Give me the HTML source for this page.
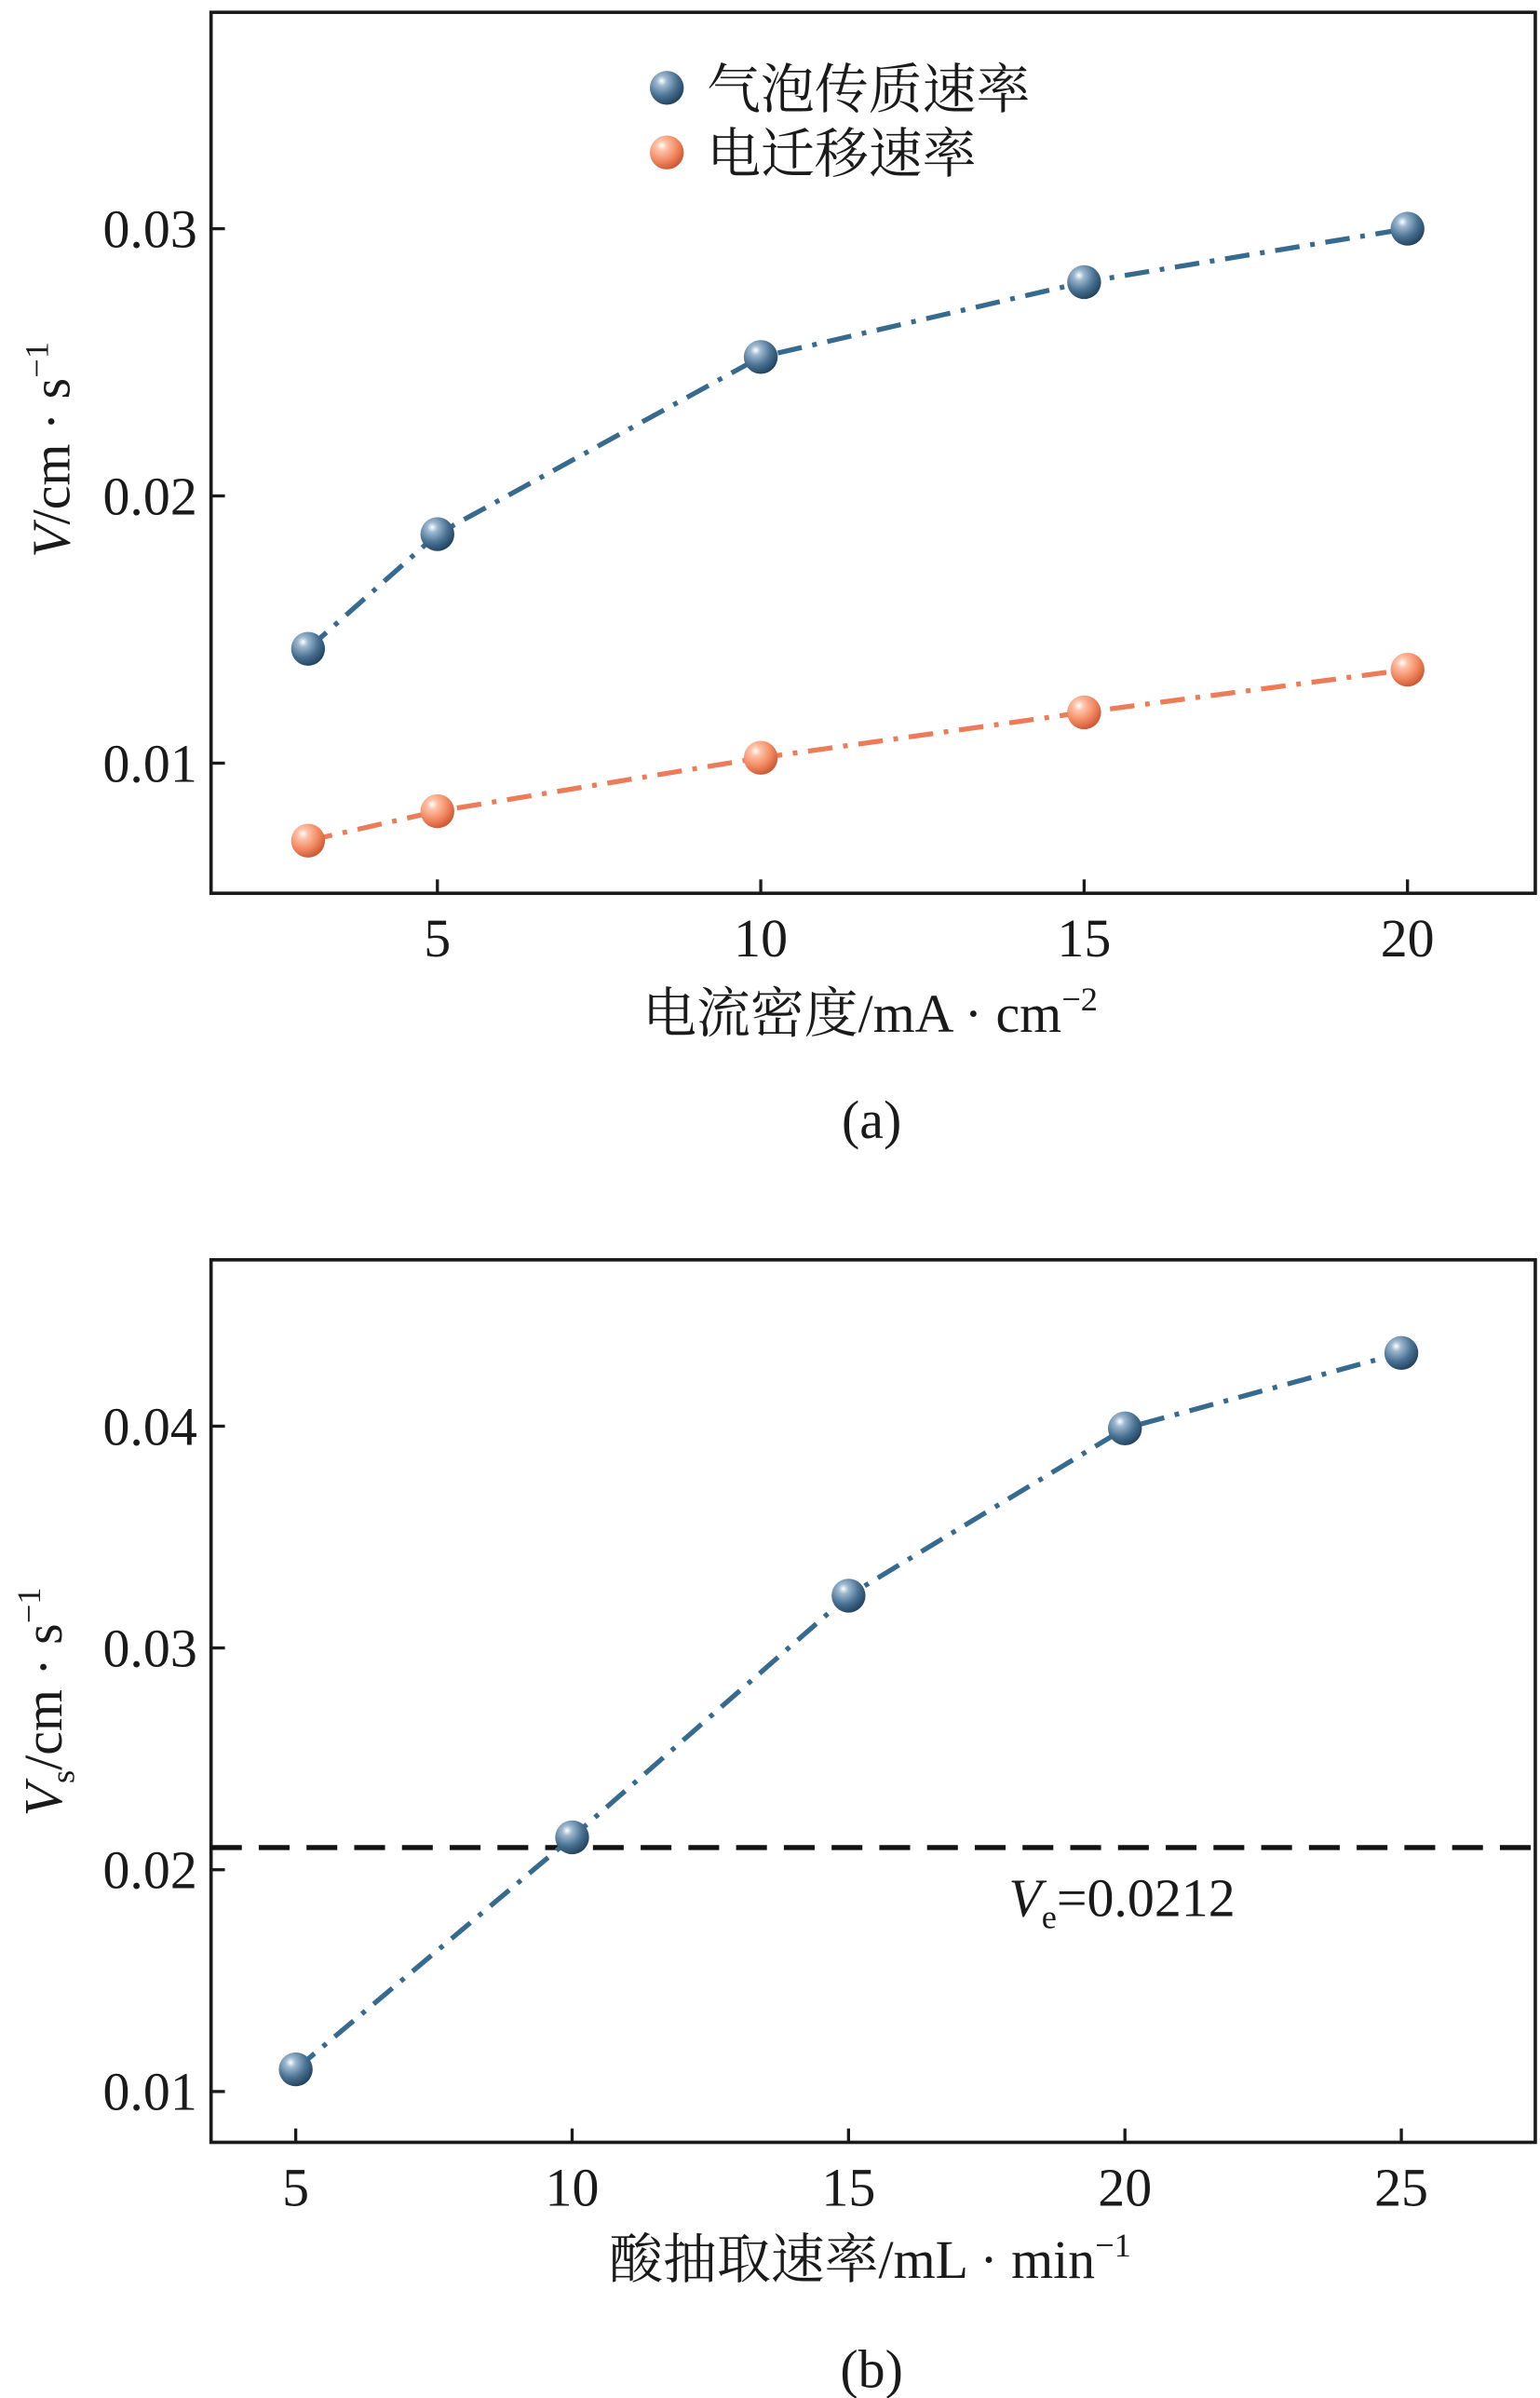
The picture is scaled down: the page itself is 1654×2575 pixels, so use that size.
<!DOCTYPE html>
<html><head><meta charset="utf-8">
<style>
html,body{margin:0;padding:0;background:#fff;}
svg{display:block;}
text{font-family:"Liberation Serif","Noto Serif CJK SC",serif;fill:#1a1a1a;}
.cjk{font-family:"Liberation Serif","Noto Serif CJK SC",serif;}
</style></head>
<body>
<svg id="fig" width="1654" height="2575" viewBox="0 0 1000 1557" xmlns="http://www.w3.org/2000/svg">
<defs>
<radialGradient id="gb" cx="0.35" cy="0.3" r="0.75">
<stop offset="0" stop-color="#ffffff"/><stop offset="0.2" stop-color="#9db8cf"/><stop offset="0.6" stop-color="#4a7293"/><stop offset="1" stop-color="#1f3f5a"/>
</radialGradient>
<radialGradient id="go" cx="0.35" cy="0.3" r="0.75">
<stop offset="0" stop-color="#ffffff"/><stop offset="0.2" stop-color="#ffc2a8"/><stop offset="0.6" stop-color="#f28a63"/><stop offset="1" stop-color="#c9532f"/>
</radialGradient>
</defs>
<g id="chartA"></g>
<g id="chartB"></g>
</svg>
<script>
// Chart (a) data
const aX = [3, 5, 10, 15, 20];
const aBubble = [0.01428, 0.01857, 0.0252, 0.0280, 0.0300];
const aMigration = [0.0071, 0.0082, 0.0102, 0.0119, 0.0135];
const aXTicks = [5, 10, 15, 20];
const aYTicks = [0.01, 0.02, 0.03];
const aYTickLabels = ["0.01", "0.02", "0.03"];
// Chart (b) data
const bX = [5, 10, 15, 20, 25];
const bVs = [0.0110, 0.02146, 0.03236, 0.0399, 0.0433];
const bXTicks = [5, 10, 15, 20, 25];
const bYTicks = [0.01, 0.02, 0.03, 0.04];
const bYTickLabels = ["0.01", "0.02", "0.03", "0.04"];
const bVe = 0.0210;

const NS = "http://www.w3.org/2000/svg";
function mk(parent, tag, attrs, txt){
  const e = document.createElementNS(NS, tag);
  for (const k in attrs) e.setAttribute(k, attrs[k]);
  if (txt !== undefined) e.textContent = txt;
  parent.appendChild(e);
  return e;
}

function drawFrame(g, L, T, R, B, sx, sy, xt, yt, ytl){
  const f = mk(g, "rect", {x:L, y:T, width:R-L, height:B-T, fill:"none", stroke:"#1a1a1a", "stroke-width":2.2});
  
  
  xt.forEach(v => {
    const t = mk(g, "line", {x1:sx(v), x2:sx(v), y1:B, y2:B-9, stroke:"#1a1a1a", "stroke-width":2});
    
    
    const l = mk(g, "text", {x:sx(v), y:B+41, "font-size":35, "text-anchor":"middle"}, String(v));
    
    
  });
  yt.forEach((v,i) => {
    const t = mk(g, "line", {x1:L, x2:L+9, y1:sy(v), y2:sy(v), stroke:"#1a1a1a", "stroke-width":2});
    
    
    const l = mk(g, "text", {x:L-9, y:sy(v)+12, "font-size":35, "text-anchor":"end"}, ytl[i]);
    
    
  });
}
function drawSeries(g, xs, ys, sx, sy, color, grad, name){
  const pts = xs.map((x,i)=>sx(x)+","+sy(ys[i])).join(" ");
  const pl = mk(g, "polyline", {points:pts, fill:"none", stroke:color, "stroke-width":3.2, "stroke-dasharray":"16 7 3 7"});
  
  
  xs.forEach((x,i)=>{
    const c = mk(g, "circle", {cx:sx(x), cy:sy(ys[i]), r:11, fill:"url(#"+grad+")"});
    
    
  });
}

// ---- Chart A ----
(function(){
  const g = document.getElementById("chartA");
  const L=137,T=8,R=997,B=580;
  const sx = v => 284 + (v-5)*(914-284)/15;
  const sy = v => 322 - (v-0.02)*17350;
  drawFrame(g,L,T,R,B,sx,sy,aXTicks,aYTicks,aYTickLabels);
  drawSeries(g,aX,aBubble,sx,sy,"#376a8f","gb","bubble-mass-transfer");
  drawSeries(g,aX,aMigration,sx,sy,"#ee7b57","go","electromigration");
  const l1 = mk(g,"circle",{cx:433,cy:57,r:11,fill:"url(#gb)"});
  
  
  const t1 = mk(g,"text",{x:459,y:70,"font-size":35,class:"cjk"},"气泡传质速率");
  
  
  const l2 = mk(g,"circle",{cx:433,cy:99,r:11,fill:"url(#go)"});
  
  
  const t2 = mk(g,"text",{x:459,y:112,"font-size":35,class:"cjk"},"电迁移速率");
  
  
  const yt = mk(g,"text",{transform:"translate(45,292) rotate(-90)","font-size":35,"text-anchor":"middle"});
  yt.innerHTML = '<tspan font-style="italic">V</tspan>/cm · s<tspan font-size="22" dy="-14">−1</tspan>';
  
  
  const xt = mk(g,"text",{x:565,y:670,"font-size":35,"text-anchor":"middle",class:"cjk"});
  xt.innerHTML = '电流密度/mA · cm<tspan font-size="22" dy="-14">−2</tspan>';
  
  
  const cap = mk(g,"text",{x:566,y:739,"font-size":35,"text-anchor":"middle"},"(a)");
  
  
})();

// ---- Chart B ----
(function(){
  const g = document.getElementById("chartB");
  const L=137,T=818,R=997,B=1391;
  const sx = v => 192 + (v-5)*(910-192)/20;
  const sy = v => 1214 - (v-0.02)*14400;
  drawFrame(g,L,T,R,B,sx,sy,bXTicks,bYTicks,bYTickLabels);
  const d = mk(g,"line",{x1:L,x2:R,y1:sy(bVe),y2:sy(bVe),stroke:"#111","stroke-width":3.2,"stroke-dasharray":"20 11"});
  
  
  drawSeries(g,bX,bVs,sx,sy,"#376a8f","gb","vs");
  const vl = mk(g,"text",{x:655,y:1244,"font-size":35});
  vl.innerHTML = '<tspan font-style="italic">V</tspan><tspan font-size="22" dy="8">e</tspan><tspan dy="-8">=0.0212</tspan>';
  
  
  const yt = mk(g,"text",{transform:"translate(40,1105) rotate(-90)","font-size":35,"text-anchor":"middle"});
  yt.innerHTML = '<tspan font-style="italic">V</tspan><tspan font-size="22" dy="8">s</tspan><tspan dy="-8">/cm · s</tspan><tspan font-size="22" dy="-14">−1</tspan>';
  
  
  const xt = mk(g,"text",{x:565,y:1479,"font-size":35,"text-anchor":"middle",class:"cjk"});
  xt.innerHTML = '酸抽取速率/mL · min<tspan font-size="22" dy="-14">−1</tspan>';
  
  
  const cap = mk(g,"text",{x:566,y:1550,"font-size":35,"text-anchor":"middle"},"(b)");
  
  
})();
</script>
</body></html>
